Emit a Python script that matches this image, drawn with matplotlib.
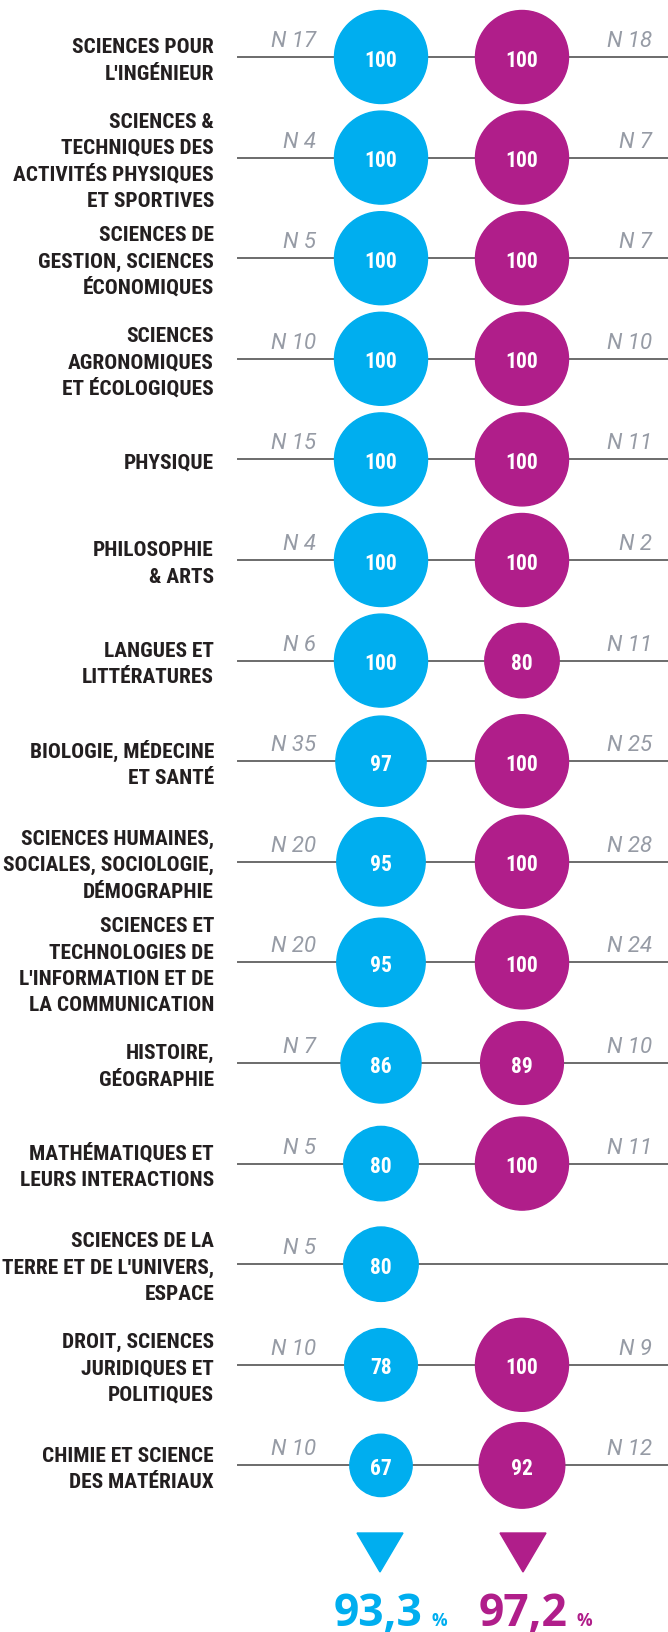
import matplotlib
matplotlib.use("Agg")
import matplotlib.pyplot as plt
from matplotlib import font_manager as fm
from matplotlib.patches import Circle, Polygon

# data
categories = [
    "SCIENCES POUR\nL'INGÉNIEUR",
    "SCIENCES &\nTECHNIQUES DES\nACTIVITÉS PHYSIQUES\nET SPORTIVES",
    "SCIENCES DE\nGESTION, SCIENCES\nÉCONOMIQUES",
    "SCIENCES\nAGRONOMIQUES\nET ÉCOLOGIQUES",
    "PHYSIQUE",
    "PHILOSOPHIE\n& ARTS",
    "LANGUES ET\nLITTÉRATURES",
    "BIOLOGIE, MÉDECINE\nET SANTÉ",
    "SCIENCES HUMAINES,\nSOCIALES, SOCIOLOGIE,\nDÉMOGRAPHIE",
    "SCIENCES ET\nTECHNOLOGIES DE\nL'INFORMATION ET DE\nLA COMMUNICATION",
    "HISTOIRE,\nGÉOGRAPHIE",
    "MATHÉMATIQUES ET\nLEURS INTERACTIONS",
    "SCIENCES DE LA\nTERRE ET DE L'UNIVERS,\nESPACE",
    "DROIT, SCIENCES\nJURIDIQUES ET\nPOLITIQUES",
    "CHIMIE ET SCIENCE\nDES MATÉRIAUX",
]
blue_vals = [100, 100, 100, 100, 100, 100, 100, 97, 95, 95, 86, 80, 80, 78, 67]
blue_n = [17, 4, 5, 10, 15, 4, 6, 35, 20, 20, 7, 5, 5, 10, 10]
mag_vals = [100, 100, 100, 100, 100, 100, 80, 100, 100, 100, 89, 100, None, 100, 92]
mag_n = [18, 7, 7, 10, 11, 2, 11, 25, 28, 24, 10, 11, None, 9, 12]
totals = ["93,3", "97,2"]

BLUE = "#00AEEF"
MAG = "#B01E8A"
DARK = "#231F20"
GREY = "#969BA5"
LINE = "#6B6B6B"

names = {f.name for f in fm.fontManager.ttflist}
def pick(*cands):
    for c in cands:
        if c in names:
            return c
    return "DejaVu Sans"

cond = pick("Roboto Condensed", "Archivo Narrow", "Asap Condensed", "Sofia Sans Condensed")
big = pick("Open Sans", "Roboto")

W, H = 668, 1633
fig = plt.figure(figsize=(W / 100, H / 100), dpi=100)
ax = fig.add_axes([0, 0, 1, 1])
ax.set_xlim(0, W)
ax.set_ylim(H, 0)
ax.set_aspect("equal")
ax.axis("off")

x_blue, x_mag = 381, 522
y0, pitch = 58, 100.6
r100 = 46.5
lh = 26.3  # line pitch of the category labels

for i, cat in enumerate(categories):
    y = y0 + i * pitch
    ax.plot([238, W], [y, y], color=LINE, lw=1.4, zorder=1)
    lines = cat.split("\n")
    for j, ln in enumerate(lines):
        yb = y + 1 + (j - (len(lines) - 1) / 2) * lh + 7.5
        ax.text(214, yb, ln, ha="right", va="baseline", fontsize=15.4,
                fontweight="bold", color=DARK, family=cond)
    ax.text(316, y - 11, f"N {blue_n[i]}", ha="right", va="baseline",
            fontsize=16, style="italic", color=GREY, family="Roboto")
    ax.add_patch(Circle((x_blue, y), r100 * blue_vals[i] / 100, color=BLUE, zorder=2))
    ax.text(x_blue, y + 8.7, str(blue_vals[i]), ha="center", va="baseline", fontsize=15.5,
            fontweight="bold", color="white", family=cond, zorder=3)
    if mag_vals[i] is not None:
        ax.text(652, y - 11, f"N {mag_n[i]}", ha="right", va="baseline",
                fontsize=16, style="italic", color=GREY, family="Roboto")
        ax.add_patch(Circle((x_mag, y), r100 * mag_vals[i] / 100, color=MAG, zorder=2))
        ax.text(x_mag, y + 8.7, str(mag_vals[i]), ha="center", va="baseline", fontsize=15.5,
                fontweight="bold", color="white", family=cond, zorder=3)

# arrows and totals
for xc, col, tot, dx in [(x_blue - 1, BLUE, totals[0], 43), (x_mag + 1, MAG, totals[1], 45)]:
    ax.add_patch(Polygon([(xc - 23, 1534), (xc + 23, 1534), (xc, 1573)], closed=True,
                         color=col))
    ax.text(xc + dx, 1626, tot, ha="right", va="baseline", fontsize=32,
            fontweight="bold", color=col, family=big)
    ax.text(xc + dx + 9, 1626, "%", ha="left", va="baseline", fontsize=12.5,
            fontweight="bold", color=col, family=big)

fig.savefig("out.png", dpi=100)
